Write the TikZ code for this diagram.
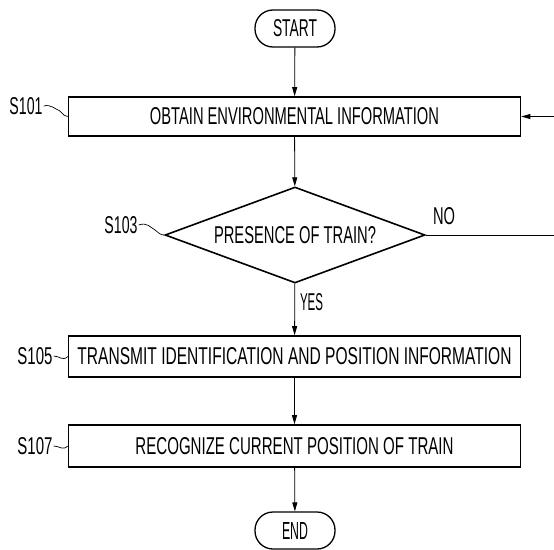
\documentclass[tikz,border=0pt]{standalone}
\usepackage{fontspec}
\setmainfont{Liberation Sans}
\usetikzlibrary{arrows.meta,shapes.geometric}
\newcommand{\fx}[2]{\resizebox{#1pt}{17pt}{#2}}
\begin{document}
\begin{tikzpicture}[x=1pt,y=-1pt,
  stepbox/.style={draw, line width=1.6pt, minimum width=452pt, inner sep=0pt},
  term/.style={draw, line width=1.3pt, rounded corners=18pt, minimum width=80pt, minimum height=37pt, inner sep=0pt},
  dec/.style={draw, diamond, line width=1.6pt, minimum width=260pt, minimum height=96pt, shape aspect=2.7, inner sep=0pt},
  lbl/.style={inner sep=1pt},
  conn/.style={line width=0.8pt},
  arr/.style={line width=0.8pt, -{Triangle[length=9pt,width=5pt]}},
  lead/.style={line width=0.7pt}]
\useasboundingbox (0,0) rectangle (554,549);
\node[term] (start) at (295,28.5) {\fx{44}{START}};
\node[stepbox, minimum height=39pt] (b1) at (294.5,116.5) {\fx{289}{OBTAIN ENVIRONMENTAL INFORMATION}};
\node[dec] (d) at (295,235) {\fx{162}{PRESENCE OF TRAIN?}};
\node[stepbox, minimum height=41pt] (b2) at (294.5,356.5) {\fx{434}{TRANSMIT IDENTIFICATION AND POSITION INFORMATION}};
\node[stepbox, minimum height=42pt] (b3) at (294.5,446) {\fx{318}{RECOGNIZE CURRENT POSITION OF TRAIN}};
\node[term] (end) at (295,530.5) {\fx{26}{END}};
\node[lbl] (l1) at (26,106) {\fx{33}{S101}};
\node[lbl] (l3) at (121,225) {\fx{33}{S103}};
\node[lbl] (l5) at (35,356) {\fx{35}{S105}};
\node[lbl] (l7) at (35,446) {\fx{35}{S107}};
\node[lbl] (no) at (444,216) {\fx{22}{NO}};
\node[lbl] (yes) at (311.5,302) {\fx{23}{YES}};
\coordinate (e1) at (554,235);
\coordinate (e2) at (554,116.5);
\draw[arr] (start) -- (b1);
\draw[arr] (b1) -- (d);
\draw[arr] (d) -- (b2);
\draw[arr] (b2) -- (b3);
\draw[arr] (b3) -- (end);
\draw[conn] (d.east) -- (e1);
\draw[arr] (e2) -- (b1.east);
\draw[lead] (l1.east) .. controls +(7,-2) and +(-5,-2) .. (60,111) .. controls +(4,4) and +(-3,0) .. (b1.west);
\draw[lead] (l3.east) .. controls +(8,-3) and +(-5,-3) .. (155,230) .. controls +(4,3) and +(-4,0) .. (d.west);
\draw[lead] (l5.east) .. controls +(6,0) and +(-5,5) .. (b2.west);
\draw[lead] (l7.east) .. controls +(6,0) and +(-5,5) .. (b3.west);
\end{tikzpicture}
\end{document}
